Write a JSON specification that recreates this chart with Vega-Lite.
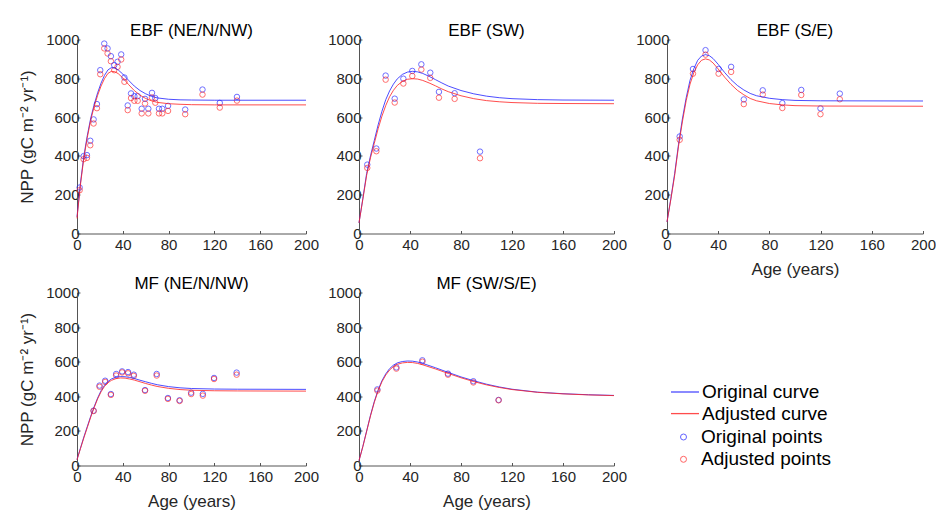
{
  "$schema": "https://vega.github.io/schema/vega-lite/v6.json",
  "padding": {"left": 18, "top": 21.5, "right": 0, "bottom": 0},
  "background": "white",
  "datasets": {
    "p1": [
      {"series": "Original points", "age": 2.3, "npp": 237}, {"series": "Adjusted points", "age": 2.3, "npp": 223},
      {"series": "Original points", "age": 5.8, "npp": 399}, {"series": "Adjusted points", "age": 5.8, "npp": 383},
      {"series": "Original points", "age": 8.7, "npp": 404}, {"series": "Adjusted points", "age": 8.7, "npp": 390},
      {"series": "Original points", "age": 11.6, "npp": 478}, {"series": "Adjusted points", "age": 11.6, "npp": 455},
      {"series": "Original points", "age": 14.5, "npp": 588}, {"series": "Adjusted points", "age": 14.5, "npp": 567},
      {"series": "Original points", "age": 17.4, "npp": 667}, {"series": "Adjusted points", "age": 17.4, "npp": 646},
      {"series": "Original points", "age": 20.3, "npp": 842}, {"series": "Adjusted points", "age": 20.3, "npp": 821},
      {"series": "Original points", "age": 23.8, "npp": 979}, {"series": "Adjusted points", "age": 23.8, "npp": 954},
      {"series": "Original points", "age": 26.7, "npp": 954}, {"series": "Adjusted points", "age": 26.7, "npp": 928},
      {"series": "Original points", "age": 29.6, "npp": 914}, {"series": "Adjusted points", "age": 29.6, "npp": 888},
      {"series": "Original points", "age": 32.5, "npp": 868}, {"series": "Adjusted points", "age": 32.5, "npp": 842},
      {"series": "Original points", "age": 35.4, "npp": 885}, {"series": "Adjusted points", "age": 35.4, "npp": 859},
      {"series": "Original points", "age": 38.6, "npp": 923}, {"series": "Adjusted points", "age": 38.6, "npp": 897},
      {"series": "Original points", "age": 41.4, "npp": 804}, {"series": "Adjusted points", "age": 41.4, "npp": 782},
      {"series": "Original points", "age": 44.3, "npp": 660}, {"series": "Adjusted points", "age": 44.3, "npp": 636},
      {"series": "Original points", "age": 47.2, "npp": 722}, {"series": "Adjusted points", "age": 47.2, "npp": 698},
      {"series": "Original points", "age": 50.1, "npp": 708}, {"series": "Adjusted points", "age": 50.1, "npp": 684},
      {"series": "Original points", "age": 53.0, "npp": 708}, {"series": "Adjusted points", "age": 53.0, "npp": 684},
      {"series": "Original points", "age": 56.5, "npp": 643}, {"series": "Adjusted points", "age": 56.5, "npp": 619},
      {"series": "Original points", "age": 59.4, "npp": 694}, {"series": "Adjusted points", "age": 59.4, "npp": 670},
      {"series": "Original points", "age": 62.3, "npp": 643}, {"series": "Adjusted points", "age": 62.3, "npp": 619},
      {"series": "Original points", "age": 65.5, "npp": 725}, {"series": "Adjusted points", "age": 65.5, "npp": 701},
      {"series": "Original points", "age": 68.4, "npp": 698}, {"series": "Adjusted points", "age": 68.4, "npp": 674},
      {"series": "Original points", "age": 71.6, "npp": 643}, {"series": "Adjusted points", "age": 71.6, "npp": 619},
      {"series": "Original points", "age": 74.5, "npp": 643}, {"series": "Adjusted points", "age": 74.5, "npp": 619},
      {"series": "Original points", "age": 79.5, "npp": 658}, {"series": "Adjusted points", "age": 79.5, "npp": 632},
      {"series": "Original points", "age": 94.5, "npp": 639}, {"series": "Adjusted points", "age": 94.5, "npp": 615},
      {"series": "Original points", "age": 109.6, "npp": 742}, {"series": "Adjusted points", "age": 109.6, "npp": 716},
      {"series": "Original points", "age": 124.7, "npp": 673}, {"series": "Adjusted points", "age": 124.7, "npp": 649},
      {"series": "Original points", "age": 139.7, "npp": 704}, {"series": "Adjusted points", "age": 139.7, "npp": 685},
      {"series": "Original curve", "age": 0, "npp": 86}, {"series": "Adjusted curve", "age": 0, "npp": 78},
      {"series": "Original curve", "age": 3, "npp": 260}, {"series": "Adjusted curve", "age": 3, "npp": 250},
      {"series": "Original curve", "age": 6, "npp": 400}, {"series": "Adjusted curve", "age": 6, "npp": 390},
      {"series": "Original curve", "age": 9, "npp": 505}, {"series": "Adjusted curve", "age": 9, "npp": 495},
      {"series": "Original curve", "age": 12, "npp": 595}, {"series": "Adjusted curve", "age": 12, "npp": 585},
      {"series": "Original curve", "age": 15, "npp": 665}, {"series": "Adjusted curve", "age": 15, "npp": 655},
      {"series": "Original curve", "age": 18, "npp": 725}, {"series": "Adjusted curve", "age": 18, "npp": 712},
      {"series": "Original curve", "age": 21, "npp": 775}, {"series": "Adjusted curve", "age": 21, "npp": 760},
      {"series": "Original curve", "age": 24, "npp": 815}, {"series": "Adjusted curve", "age": 24, "npp": 798},
      {"series": "Original curve", "age": 27, "npp": 843}, {"series": "Adjusted curve", "age": 27, "npp": 825},
      {"series": "Original curve", "age": 30, "npp": 855}, {"series": "Adjusted curve", "age": 30, "npp": 836},
      {"series": "Original curve", "age": 33, "npp": 853}, {"series": "Adjusted curve", "age": 33, "npp": 834},
      {"series": "Original curve", "age": 36, "npp": 843}, {"series": "Adjusted curve", "age": 36, "npp": 824},
      {"series": "Original curve", "age": 40, "npp": 822}, {"series": "Adjusted curve", "age": 40, "npp": 802},
      {"series": "Original curve", "age": 45, "npp": 790}, {"series": "Adjusted curve", "age": 45, "npp": 768},
      {"series": "Original curve", "age": 50, "npp": 760}, {"series": "Adjusted curve", "age": 50, "npp": 737},
      {"series": "Original curve", "age": 55, "npp": 737}, {"series": "Adjusted curve", "age": 55, "npp": 713},
      {"series": "Original curve", "age": 60, "npp": 720}, {"series": "Adjusted curve", "age": 60, "npp": 696},
      {"series": "Original curve", "age": 65, "npp": 707}, {"series": "Adjusted curve", "age": 65, "npp": 684},
      {"series": "Original curve", "age": 70, "npp": 699}, {"series": "Adjusted curve", "age": 70, "npp": 676},
      {"series": "Original curve", "age": 80, "npp": 692}, {"series": "Adjusted curve", "age": 80, "npp": 669},
      {"series": "Original curve", "age": 90, "npp": 689}, {"series": "Adjusted curve", "age": 90, "npp": 666},
      {"series": "Original curve", "age": 100, "npp": 688}, {"series": "Adjusted curve", "age": 100, "npp": 664},
      {"series": "Original curve", "age": 120, "npp": 687}, {"series": "Adjusted curve", "age": 120, "npp": 663},
      {"series": "Original curve", "age": 200, "npp": 687}, {"series": "Adjusted curve", "age": 200, "npp": 663}
    ],
    "p2": [
      {"series": "Original points", "age": 6.5, "npp": 355}, {"series": "Adjusted points", "age": 6.5, "npp": 338},
      {"series": "Original points", "age": 13.6, "npp": 438}, {"series": "Adjusted points", "age": 13.6, "npp": 424},
      {"series": "Original points", "age": 20.9, "npp": 814}, {"series": "Adjusted points", "age": 20.9, "npp": 793},
      {"series": "Original points", "age": 28.0, "npp": 695}, {"series": "Adjusted points", "age": 28.0, "npp": 675},
      {"series": "Original points", "age": 34.8, "npp": 798}, {"series": "Adjusted points", "age": 34.8, "npp": 773},
      {"series": "Original points", "age": 41.8, "npp": 838}, {"series": "Adjusted points", "age": 41.8, "npp": 812},
      {"series": "Original points", "age": 48.9, "npp": 872}, {"series": "Adjusted points", "age": 48.9, "npp": 845},
      {"series": "Original points", "age": 55.9, "npp": 829}, {"series": "Adjusted points", "age": 55.9, "npp": 802},
      {"series": "Original points", "age": 62.7, "npp": 730}, {"series": "Adjusted points", "age": 62.7, "npp": 700},
      {"series": "Original points", "age": 75.0, "npp": 723}, {"series": "Adjusted points", "age": 75.0, "npp": 694},
      {"series": "Original points", "age": 94.9, "npp": 422}, {"series": "Adjusted points", "age": 94.9, "npp": 388},
      {"series": "Original curve", "age": 0, "npp": 55}, {"series": "Adjusted curve", "age": 0, "npp": 55},
      {"series": "Original curve", "age": 3, "npp": 180}, {"series": "Adjusted curve", "age": 3, "npp": 175},
      {"series": "Original curve", "age": 6, "npp": 310}, {"series": "Adjusted curve", "age": 6, "npp": 300},
      {"series": "Original curve", "age": 9, "npp": 400}, {"series": "Adjusted curve", "age": 9, "npp": 390},
      {"series": "Original curve", "age": 12, "npp": 480}, {"series": "Adjusted curve", "age": 12, "npp": 465},
      {"series": "Original curve", "age": 15, "npp": 560}, {"series": "Adjusted curve", "age": 15, "npp": 540},
      {"series": "Original curve", "age": 18, "npp": 630}, {"series": "Adjusted curve", "age": 18, "npp": 605},
      {"series": "Original curve", "age": 21, "npp": 690}, {"series": "Adjusted curve", "age": 21, "npp": 660},
      {"series": "Original curve", "age": 24, "npp": 735}, {"series": "Adjusted curve", "age": 24, "npp": 705},
      {"series": "Original curve", "age": 27, "npp": 770}, {"series": "Adjusted curve", "age": 27, "npp": 738},
      {"series": "Original curve", "age": 30, "npp": 797}, {"series": "Adjusted curve", "age": 30, "npp": 763},
      {"series": "Original curve", "age": 34, "npp": 820}, {"series": "Adjusted curve", "age": 34, "npp": 784},
      {"series": "Original curve", "age": 38, "npp": 832}, {"series": "Adjusted curve", "age": 38, "npp": 795},
      {"series": "Original curve", "age": 42, "npp": 836}, {"series": "Adjusted curve", "age": 42, "npp": 798},
      {"series": "Original curve", "age": 46, "npp": 833}, {"series": "Adjusted curve", "age": 46, "npp": 796},
      {"series": "Original curve", "age": 50, "npp": 825}, {"series": "Adjusted curve", "age": 50, "npp": 789},
      {"series": "Original curve", "age": 55, "npp": 810}, {"series": "Adjusted curve", "age": 55, "npp": 776},
      {"series": "Original curve", "age": 60, "npp": 793}, {"series": "Adjusted curve", "age": 60, "npp": 761},
      {"series": "Original curve", "age": 65, "npp": 776}, {"series": "Adjusted curve", "age": 65, "npp": 745},
      {"series": "Original curve", "age": 70, "npp": 760}, {"series": "Adjusted curve", "age": 70, "npp": 731},
      {"series": "Original curve", "age": 80, "npp": 737}, {"series": "Adjusted curve", "age": 80, "npp": 710},
      {"series": "Original curve", "age": 90, "npp": 720}, {"series": "Adjusted curve", "age": 90, "npp": 695},
      {"series": "Original curve", "age": 100, "npp": 708}, {"series": "Adjusted curve", "age": 100, "npp": 685},
      {"series": "Original curve", "age": 110, "npp": 700}, {"series": "Adjusted curve", "age": 110, "npp": 679},
      {"series": "Original curve", "age": 120, "npp": 695}, {"series": "Adjusted curve", "age": 120, "npp": 675},
      {"series": "Original curve", "age": 140, "npp": 690}, {"series": "Adjusted curve", "age": 140, "npp": 671},
      {"series": "Original curve", "age": 160, "npp": 688}, {"series": "Adjusted curve", "age": 160, "npp": 670},
      {"series": "Original curve", "age": 200, "npp": 687}, {"series": "Adjusted curve", "age": 200, "npp": 669}
    ],
    "p3": [
      {"series": "Original points", "age": 9.9, "npp": 500}, {"series": "Adjusted points", "age": 9.9, "npp": 483},
      {"series": "Original points", "age": 20.3, "npp": 848}, {"series": "Adjusted points", "age": 20.3, "npp": 824},
      {"series": "Original points", "age": 30.1, "npp": 945}, {"series": "Adjusted points", "age": 30.1, "npp": 922},
      {"series": "Original points", "age": 40.3, "npp": 848}, {"series": "Adjusted points", "age": 40.3, "npp": 824},
      {"series": "Original points", "age": 50.1, "npp": 859}, {"series": "Adjusted points", "age": 50.1, "npp": 833},
      {"series": "Original points", "age": 60.0, "npp": 691}, {"series": "Adjusted points", "age": 60.0, "npp": 667},
      {"series": "Original points", "age": 74.8, "npp": 738}, {"series": "Adjusted points", "age": 74.8, "npp": 716},
      {"series": "Original points", "age": 90.1, "npp": 672}, {"series": "Adjusted points", "age": 90.1, "npp": 647},
      {"series": "Original points", "age": 104.9, "npp": 740}, {"series": "Adjusted points", "age": 104.9, "npp": 714},
      {"series": "Original points", "age": 119.9, "npp": 645}, {"series": "Adjusted points", "age": 119.9, "npp": 615},
      {"series": "Original points", "age": 135.0, "npp": 721}, {"series": "Adjusted points", "age": 135.0, "npp": 692},
      {"series": "Original curve", "age": 0, "npp": 60}, {"series": "Adjusted curve", "age": 0, "npp": 60},
      {"series": "Original curve", "age": 3, "npp": 180}, {"series": "Adjusted curve", "age": 3, "npp": 175},
      {"series": "Original curve", "age": 6, "npp": 310}, {"series": "Adjusted curve", "age": 6, "npp": 300},
      {"series": "Original curve", "age": 9, "npp": 460}, {"series": "Adjusted curve", "age": 9, "npp": 450},
      {"series": "Original curve", "age": 12, "npp": 590}, {"series": "Adjusted curve", "age": 12, "npp": 575},
      {"series": "Original curve", "age": 15, "npp": 700}, {"series": "Adjusted curve", "age": 15, "npp": 685},
      {"series": "Original curve", "age": 18, "npp": 790}, {"series": "Adjusted curve", "age": 18, "npp": 770},
      {"series": "Original curve", "age": 21, "npp": 850}, {"series": "Adjusted curve", "age": 21, "npp": 830},
      {"series": "Original curve", "age": 24, "npp": 893}, {"series": "Adjusted curve", "age": 24, "npp": 870},
      {"series": "Original curve", "age": 27, "npp": 915}, {"series": "Adjusted curve", "age": 27, "npp": 893},
      {"series": "Original curve", "age": 30, "npp": 922}, {"series": "Adjusted curve", "age": 30, "npp": 900},
      {"series": "Original curve", "age": 33, "npp": 917}, {"series": "Adjusted curve", "age": 33, "npp": 895},
      {"series": "Original curve", "age": 36, "npp": 902}, {"series": "Adjusted curve", "age": 36, "npp": 879},
      {"series": "Original curve", "age": 40, "npp": 872}, {"series": "Adjusted curve", "age": 40, "npp": 848},
      {"series": "Original curve", "age": 45, "npp": 830}, {"series": "Adjusted curve", "age": 45, "npp": 806},
      {"series": "Original curve", "age": 50, "npp": 793}, {"series": "Adjusted curve", "age": 50, "npp": 769},
      {"series": "Original curve", "age": 55, "npp": 763}, {"series": "Adjusted curve", "age": 55, "npp": 738},
      {"series": "Original curve", "age": 60, "npp": 740}, {"series": "Adjusted curve", "age": 60, "npp": 715},
      {"series": "Original curve", "age": 65, "npp": 722}, {"series": "Adjusted curve", "age": 65, "npp": 696},
      {"series": "Original curve", "age": 70, "npp": 710}, {"series": "Adjusted curve", "age": 70, "npp": 684},
      {"series": "Original curve", "age": 80, "npp": 697}, {"series": "Adjusted curve", "age": 80, "npp": 670},
      {"series": "Original curve", "age": 90, "npp": 690}, {"series": "Adjusted curve", "age": 90, "npp": 663},
      {"series": "Original curve", "age": 100, "npp": 686}, {"series": "Adjusted curve", "age": 100, "npp": 659},
      {"series": "Original curve", "age": 120, "npp": 684}, {"series": "Adjusted curve", "age": 120, "npp": 657},
      {"series": "Original curve", "age": 200, "npp": 683}, {"series": "Adjusted curve", "age": 200, "npp": 656}
    ],
    "p4": [
      {"series": "Original points", "age": 14.5, "npp": 317}, {"series": "Adjusted points", "age": 14.5, "npp": 315},
      {"series": "Original points", "age": 19.7, "npp": 462}, {"series": "Adjusted points", "age": 19.7, "npp": 455},
      {"series": "Original points", "age": 24.6, "npp": 490}, {"series": "Adjusted points", "age": 24.6, "npp": 483},
      {"series": "Original points", "age": 29.6, "npp": 413}, {"series": "Adjusted points", "age": 29.6, "npp": 408},
      {"series": "Original points", "age": 34.2, "npp": 529}, {"series": "Adjusted points", "age": 34.2, "npp": 520},
      {"series": "Original points", "age": 39.4, "npp": 544}, {"series": "Adjusted points", "age": 39.4, "npp": 538},
      {"series": "Original points", "age": 44.6, "npp": 540}, {"series": "Adjusted points", "age": 44.6, "npp": 533},
      {"series": "Original points", "age": 49.6, "npp": 525}, {"series": "Adjusted points", "age": 49.6, "npp": 518},
      {"series": "Original points", "age": 59.4, "npp": 436}, {"series": "Adjusted points", "age": 59.4, "npp": 432},
      {"series": "Original points", "age": 69.6, "npp": 529}, {"series": "Adjusted points", "age": 69.6, "npp": 520},
      {"series": "Original points", "age": 79.4, "npp": 390}, {"series": "Adjusted points", "age": 79.4, "npp": 385},
      {"series": "Original points", "age": 89.6, "npp": 377}, {"series": "Adjusted points", "age": 89.6, "npp": 373},
      {"series": "Original points", "age": 99.7, "npp": 421}, {"series": "Adjusted points", "age": 99.7, "npp": 413},
      {"series": "Original points", "age": 109.9, "npp": 414}, {"series": "Adjusted points", "age": 109.9, "npp": 404},
      {"series": "Original points", "age": 119.7, "npp": 506}, {"series": "Adjusted points", "age": 119.7, "npp": 500},
      {"series": "Original points", "age": 139.4, "npp": 537}, {"series": "Adjusted points", "age": 139.4, "npp": 525},
      {"series": "Original curve", "age": 0, "npp": 35}, {"series": "Adjusted curve", "age": 0, "npp": 33},
      {"series": "Original curve", "age": 3, "npp": 100}, {"series": "Adjusted curve", "age": 3, "npp": 97},
      {"series": "Original curve", "age": 6, "npp": 165}, {"series": "Adjusted curve", "age": 6, "npp": 160},
      {"series": "Original curve", "age": 9, "npp": 225}, {"series": "Adjusted curve", "age": 9, "npp": 220},
      {"series": "Original curve", "age": 12, "npp": 285}, {"series": "Adjusted curve", "age": 12, "npp": 280},
      {"series": "Original curve", "age": 15, "npp": 340}, {"series": "Adjusted curve", "age": 15, "npp": 335},
      {"series": "Original curve", "age": 18, "npp": 390}, {"series": "Adjusted curve", "age": 18, "npp": 385},
      {"series": "Original curve", "age": 21, "npp": 432}, {"series": "Adjusted curve", "age": 21, "npp": 426},
      {"series": "Original curve", "age": 24, "npp": 463}, {"series": "Adjusted curve", "age": 24, "npp": 457},
      {"series": "Original curve", "age": 27, "npp": 485}, {"series": "Adjusted curve", "age": 27, "npp": 478},
      {"series": "Original curve", "age": 30, "npp": 500}, {"series": "Adjusted curve", "age": 30, "npp": 492},
      {"series": "Original curve", "age": 34, "npp": 510}, {"series": "Adjusted curve", "age": 34, "npp": 502},
      {"series": "Original curve", "age": 38, "npp": 514}, {"series": "Adjusted curve", "age": 38, "npp": 506},
      {"series": "Original curve", "age": 42, "npp": 513}, {"series": "Adjusted curve", "age": 42, "npp": 505},
      {"series": "Original curve", "age": 46, "npp": 509}, {"series": "Adjusted curve", "age": 46, "npp": 500},
      {"series": "Original curve", "age": 50, "npp": 503}, {"series": "Adjusted curve", "age": 50, "npp": 494},
      {"series": "Original curve", "age": 55, "npp": 493}, {"series": "Adjusted curve", "age": 55, "npp": 484},
      {"series": "Original curve", "age": 60, "npp": 484}, {"series": "Adjusted curve", "age": 60, "npp": 474},
      {"series": "Original curve", "age": 65, "npp": 475}, {"series": "Adjusted curve", "age": 65, "npp": 465},
      {"series": "Original curve", "age": 70, "npp": 467}, {"series": "Adjusted curve", "age": 70, "npp": 457},
      {"series": "Original curve", "age": 80, "npp": 456}, {"series": "Adjusted curve", "age": 80, "npp": 446},
      {"series": "Original curve", "age": 90, "npp": 449}, {"series": "Adjusted curve", "age": 90, "npp": 439},
      {"series": "Original curve", "age": 100, "npp": 445}, {"series": "Adjusted curve", "age": 100, "npp": 435},
      {"series": "Original curve", "age": 120, "npp": 442}, {"series": "Adjusted curve", "age": 120, "npp": 432},
      {"series": "Original curve", "age": 140, "npp": 441}, {"series": "Adjusted curve", "age": 140, "npp": 431},
      {"series": "Original curve", "age": 200, "npp": 440}, {"series": "Adjusted curve", "age": 200, "npp": 430}
    ],
    "p5": [
      {"series": "Original points", "age": 14.4, "npp": 440}, {"series": "Adjusted points", "age": 14.4, "npp": 433},
      {"series": "Original points", "age": 29.3, "npp": 567}, {"series": "Adjusted points", "age": 29.3, "npp": 560},
      {"series": "Original points", "age": 49.7, "npp": 608}, {"series": "Adjusted points", "age": 49.7, "npp": 600},
      {"series": "Original points", "age": 69.8, "npp": 531}, {"series": "Adjusted points", "age": 69.8, "npp": 525},
      {"series": "Original points", "age": 89.7, "npp": 487}, {"series": "Adjusted points", "age": 89.7, "npp": 480},
      {"series": "Original points", "age": 109.5, "npp": 379}, {"series": "Adjusted points", "age": 109.5, "npp": 377},
      {"series": "Original curve", "age": 0, "npp": 28}, {"series": "Adjusted curve", "age": 0, "npp": 28},
      {"series": "Original curve", "age": 3, "npp": 110}, {"series": "Adjusted curve", "age": 3, "npp": 108},
      {"series": "Original curve", "age": 6, "npp": 200}, {"series": "Adjusted curve", "age": 6, "npp": 197},
      {"series": "Original curve", "age": 9, "npp": 290}, {"series": "Adjusted curve", "age": 9, "npp": 286},
      {"series": "Original curve", "age": 12, "npp": 370}, {"series": "Adjusted curve", "age": 12, "npp": 365},
      {"series": "Original curve", "age": 15, "npp": 437}, {"series": "Adjusted curve", "age": 15, "npp": 432},
      {"series": "Original curve", "age": 18, "npp": 490}, {"series": "Adjusted curve", "age": 18, "npp": 484},
      {"series": "Original curve", "age": 21, "npp": 530}, {"series": "Adjusted curve", "age": 21, "npp": 523},
      {"series": "Original curve", "age": 24, "npp": 560}, {"series": "Adjusted curve", "age": 24, "npp": 552},
      {"series": "Original curve", "age": 27, "npp": 580}, {"series": "Adjusted curve", "age": 27, "npp": 572},
      {"series": "Original curve", "age": 30, "npp": 593}, {"series": "Adjusted curve", "age": 30, "npp": 585},
      {"series": "Original curve", "age": 34, "npp": 601}, {"series": "Adjusted curve", "age": 34, "npp": 593},
      {"series": "Original curve", "age": 38, "npp": 604}, {"series": "Adjusted curve", "age": 38, "npp": 596},
      {"series": "Original curve", "age": 42, "npp": 603}, {"series": "Adjusted curve", "age": 42, "npp": 595},
      {"series": "Original curve", "age": 46, "npp": 598}, {"series": "Adjusted curve", "age": 46, "npp": 590},
      {"series": "Original curve", "age": 50, "npp": 590}, {"series": "Adjusted curve", "age": 50, "npp": 582},
      {"series": "Original curve", "age": 60, "npp": 565}, {"series": "Adjusted curve", "age": 60, "npp": 558},
      {"series": "Original curve", "age": 70, "npp": 538}, {"series": "Adjusted curve", "age": 70, "npp": 532},
      {"series": "Original curve", "age": 80, "npp": 512}, {"series": "Adjusted curve", "age": 80, "npp": 507},
      {"series": "Original curve", "age": 90, "npp": 490}, {"series": "Adjusted curve", "age": 90, "npp": 485},
      {"series": "Original curve", "age": 100, "npp": 470}, {"series": "Adjusted curve", "age": 100, "npp": 466},
      {"series": "Original curve", "age": 110, "npp": 454}, {"series": "Adjusted curve", "age": 110, "npp": 451},
      {"series": "Original curve", "age": 120, "npp": 441}, {"series": "Adjusted curve", "age": 120, "npp": 439},
      {"series": "Original curve", "age": 140, "npp": 424}, {"series": "Adjusted curve", "age": 140, "npp": 423},
      {"series": "Original curve", "age": 160, "npp": 415}, {"series": "Adjusted curve", "age": 160, "npp": 414},
      {"series": "Original curve", "age": 180, "npp": 409}, {"series": "Adjusted curve", "age": 180, "npp": 408},
      {"series": "Original curve", "age": 200, "npp": 405}, {"series": "Adjusted curve", "age": 200, "npp": 404}
    ]
  },
  "bounds": "flush",
  "spacing": 253,
  "vconcat": [
    {
      "bounds": "flush",
      "spacing": 53,
      "hconcat": [
        {
          "width": 229, "height": 194, "title": "EBF (NE/N/NW)", "data": {"name": "p1"},
          "layer": [
            {"transform": [{"filter": {"field": "series", "oneOf": ["Original points", "Adjusted points"]}}],
             "mark": {"type": "point", "filled": false, "size": 30, "strokeWidth": 1, "opacity": 0.65},
             "encoding": {
               "x": {"field": "age", "type": "quantitative", "scale": {"domain": [0, 200], "nice": false}, "axis": {"values": [0, 40, 80, 120, 160, 200], "tickCount": 10, "format": "d", "title": null}},
               "y": {"field": "npp", "type": "quantitative", "scale": {"domain": [0, 1000], "nice": false}, "axis": {"values": [0, 200, 400, 600, 800, 1000], "tickCount": 10, "format": "d", "title": "NPP (gC m⁻² yr⁻¹)"}},
               "stroke": {"field": "series", "type": "nominal", "scale": {"domain": ["Original points", "Adjusted points"], "range": ["#2020ff", "#ff2020"]}, "legend": {"orient": "none", "legendX": 597, "legendY": 387.5, "title": null, "symbolType": "circle", "symbolSize": 36, "symbolStrokeWidth": 1, "symbolOpacity": 0.7, "labelOffset": 8, "clipHeight": 20, "rowPadding": 2.3, "padding": 0}}
             }},
            {"transform": [{"filter": {"field": "series", "oneOf": ["Original curve", "Adjusted curve"]}}],
             "mark": {"type": "line", "strokeWidth": 1, "opacity": 0.8},
             "encoding": {
               "x": {"field": "age", "type": "quantitative"},
               "y": {"field": "npp", "type": "quantitative"},
               "color": {"field": "series", "type": "nominal", "scale": {"domain": ["Original curve", "Adjusted curve"], "range": ["#2020ff", "#ff2020"]}, "legend": {"orient": "none", "legendX": 593, "legendY": 342.5, "title": null, "symbolType": "stroke", "symbolSize": 784, "symbolStrokeWidth": 1.3, "labelOffset": 2, "clipHeight": 20, "rowPadding": 1.6, "padding": 0}}
             }}
          ]
        },
        {
          "width": 255, "height": 194, "title": "EBF (SW)", "data": {"name": "p2"},
          "layer": [
            {"transform": [{"filter": {"field": "series", "oneOf": ["Original points", "Adjusted points"]}}],
             "mark": {"type": "point", "filled": false, "size": 30, "strokeWidth": 1, "opacity": 0.65},
             "encoding": {
               "x": {"field": "age", "type": "quantitative", "scale": {"domain": [0, 200], "nice": false}, "axis": {"values": [0, 40, 80, 120, 160, 200], "tickCount": 10, "format": "d", "title": null}},
               "y": {"field": "npp", "type": "quantitative", "scale": {"domain": [0, 1000], "nice": false}, "axis": {"values": [0, 200, 400, 600, 800, 1000], "tickCount": 10, "format": "d", "title": null}},
               "stroke": {"field": "series", "type": "nominal"}
             }},
            {"transform": [{"filter": {"field": "series", "oneOf": ["Original curve", "Adjusted curve"]}}],
             "mark": {"type": "line", "strokeWidth": 1, "opacity": 0.8},
             "encoding": {
               "x": {"field": "age", "type": "quantitative"},
               "y": {"field": "npp", "type": "quantitative"},
               "color": {"field": "series", "type": "nominal"}
             }}
          ]
        },
        {
          "width": 256, "height": 194, "title": "EBF (S/E)", "data": {"name": "p3"},
          "layer": [
            {"transform": [{"filter": {"field": "series", "oneOf": ["Original points", "Adjusted points"]}}],
             "mark": {"type": "point", "filled": false, "size": 30, "strokeWidth": 1, "opacity": 0.65},
             "encoding": {
               "x": {"field": "age", "type": "quantitative", "scale": {"domain": [0, 200], "nice": false}, "axis": {"values": [0, 40, 80, 120, 160, 200], "tickCount": 10, "format": "d", "title": "Age (years)"}},
               "y": {"field": "npp", "type": "quantitative", "scale": {"domain": [0, 1000], "nice": false}, "axis": {"values": [0, 200, 400, 600, 800, 1000], "tickCount": 10, "format": "d", "title": null}},
               "stroke": {"field": "series", "type": "nominal"}
             }},
            {"transform": [{"filter": {"field": "series", "oneOf": ["Original curve", "Adjusted curve"]}}],
             "mark": {"type": "line", "strokeWidth": 1, "opacity": 0.8},
             "encoding": {
               "x": {"field": "age", "type": "quantitative"},
               "y": {"field": "npp", "type": "quantitative"},
               "color": {"field": "series", "type": "nominal"}
             }}
          ]
        }
      ]
    },
    {
      "bounds": "flush",
      "spacing": 53,
      "hconcat": [
        {
          "width": 229, "height": 173, "title": "MF (NE/N/NW)", "data": {"name": "p4"},
          "layer": [
            {"transform": [{"filter": {"field": "series", "oneOf": ["Original points", "Adjusted points"]}}],
             "mark": {"type": "point", "filled": false, "size": 30, "strokeWidth": 1, "opacity": 0.65},
             "encoding": {
               "x": {"field": "age", "type": "quantitative", "scale": {"domain": [0, 200], "nice": false}, "axis": {"values": [0, 40, 80, 120, 160, 200], "tickCount": 10, "format": "d", "title": "Age (years)"}},
               "y": {"field": "npp", "type": "quantitative", "scale": {"domain": [0, 1000], "nice": false}, "axis": {"values": [0, 200, 400, 600, 800, 1000], "tickCount": 10, "format": "d", "title": "NPP (gC m⁻² yr⁻¹)"}},
               "stroke": {"field": "series", "type": "nominal"}
             }},
            {"transform": [{"filter": {"field": "series", "oneOf": ["Original curve", "Adjusted curve"]}}],
             "mark": {"type": "line", "strokeWidth": 1, "opacity": 0.8},
             "encoding": {
               "x": {"field": "age", "type": "quantitative"},
               "y": {"field": "npp", "type": "quantitative"},
               "color": {"field": "series", "type": "nominal"}
             }}
          ]
        },
        {
          "width": 255, "height": 173, "title": "MF (SW/S/E)", "data": {"name": "p5"},
          "layer": [
            {"transform": [{"filter": {"field": "series", "oneOf": ["Original points", "Adjusted points"]}}],
             "mark": {"type": "point", "filled": false, "size": 30, "strokeWidth": 1, "opacity": 0.65},
             "encoding": {
               "x": {"field": "age", "type": "quantitative", "scale": {"domain": [0, 200], "nice": false}, "axis": {"values": [0, 40, 80, 120, 160, 200], "tickCount": 10, "format": "d", "title": "Age (years)"}},
               "y": {"field": "npp", "type": "quantitative", "scale": {"domain": [0, 1000], "nice": false}, "axis": {"values": [0, 200, 400, 600, 800, 1000], "tickCount": 10, "format": "d", "title": null}},
               "stroke": {"field": "series", "type": "nominal"}
             }},
            {"transform": [{"filter": {"field": "series", "oneOf": ["Original curve", "Adjusted curve"]}}],
             "mark": {"type": "line", "strokeWidth": 1, "opacity": 0.8},
             "encoding": {
               "x": {"field": "age", "type": "quantitative"},
               "y": {"field": "npp", "type": "quantitative"},
               "color": {"field": "series", "type": "nominal"}
             }}
          ]
        }
      ]
    }
  ],
  "config": {
    "font": "Liberation Sans",
    "view": {"stroke": null},
    "axis": {"grid": false, "domainColor": "#555555", "tickColor": "#555555", "labelColor": "#262626", "titleColor": "#262626", "labelFont": "Liberation Sans", "titleFont": "Liberation Sans", "labelFontSize": 15, "titleFontSize": 17, "titleFontWeight": "normal", "tickSize": -3, "domainWidth": 1, "tickWidth": 1, "labelFlush": false, "labelOverlap": false},
    "axisX": {"labelPadding": 7, "titlePadding": 9},
    "axisY": {"labelPadding": 1, "titlePadding": 9.4},
    "title": {"font": "Liberation Sans", "fontSize": 17, "fontWeight": "normal", "color": "#000000", "offset": -7.5},
    "legend": {"labelFont": "Liberation Sans", "labelFontSize": 19, "labelColor": "#000000"}
  }
}
